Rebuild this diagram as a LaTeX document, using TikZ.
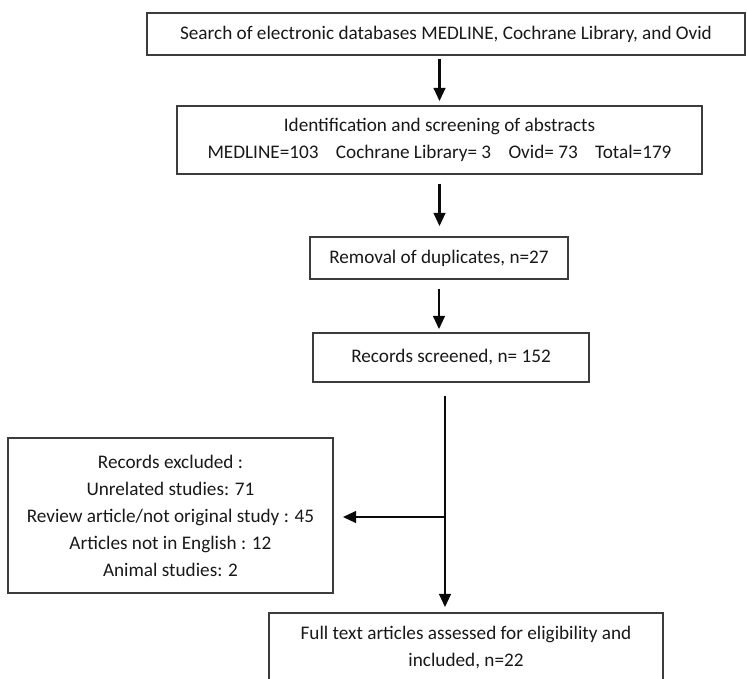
\documentclass[tikz,border=0pt]{standalone}
\usepackage{fontspec}
\setmainfont{Carlito}
\usetikzlibrary{arrows.meta,positioning}
\definecolor{flowline}{RGB}{10,10,10}
\definecolor{flowbox}{RGB}{60,60,60}
\definecolor{flowtext}{RGB}{25,25,25}

\begin{document}
\begin{tikzpicture}[
  font=\fontsize{16.4}{23}\selectfont, >={Triangle[length=.40cm,width=.34cm]},
  stepbox/.style={draw=flowbox,line width=1.2pt,fill=white,text=flowtext,
    inner sep=0pt,align=center},
  arr/.style={->,line width=2.5pt,draw=flowline}
]
\clip[use as bounding box] (0,0) rectangle (22.41,-20.34);

\node[stepbox,minimum width=17.94cm,minimum height=1.26cm] (search) at (13.38,-1.02)
 {Search of electronic databases MEDLINE, Cochrane Library, and Ovid};
\node[stepbox,minimum width=15.75cm,minimum height=2.04cm] (ident) at (13.185,-4.20)
 {Identification and screening of abstracts\\
  MEDLINE=103\hspace{.9em}Cochrane Library= 3\hspace{.9em}Ovid= 73\hspace{.9em}Total=179};
\node[stepbox,minimum width=7.74cm,minimum height=1.26cm] (dup) at (13.17,-7.74)
 {Removal of duplicates, n=27};
\node[stepbox,minimum width=8.28cm,minimum height=1.47cm] (screened) at (13.53,-10.725)
 {Records screened, n= 152};
\node[stepbox,minimum width=9.75cm,minimum height=4.65cm] (excluded) at (5.115,-15.465)
 {Records excluded :\\Unrelated studies: 71\\Review article/not original study : 45\\
  Articles not in English : 12\\Animal studies: 2};
\node[stepbox,minimum width=11.82cm,minimum height=2.10cm] (full) at (13.98,-19.44)
 {Full text articles assessed for eligibility and\\included, n=22};

\coordinate (split) at (13.35,-15.51);

\draw[arr,shorten <=.09cm,shorten >=.12cm] (search.south -| ident.north) -- (ident.north);
\draw[arr,shorten <=.27cm,shorten >=.30cm] (ident.south) -- (ident.south |- dup.north);
\draw[arr,shorten <=.27cm,shorten >=.09cm] (dup.south) -- (dup.south |- screened.north);
\draw[arr,shorten <=.39cm,shorten >=.15cm] (screened.south -| split) -- (full.north -| split);
\draw[arr,shorten >=.27cm] (split) -- (split -| excluded.east);
\end{tikzpicture}
\end{document}
